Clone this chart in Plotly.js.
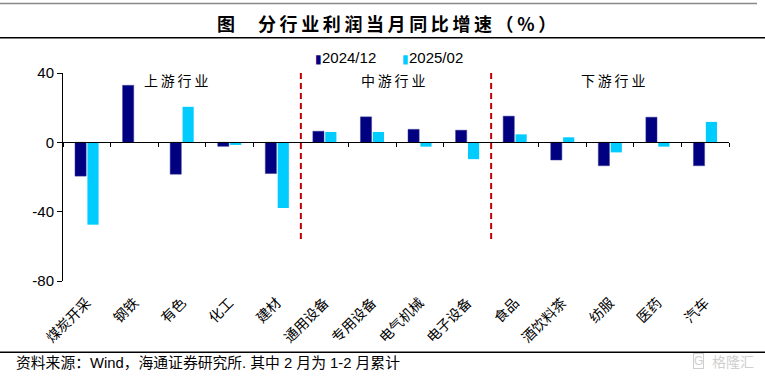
<!DOCTYPE html>
<html>
<head>
<meta charset="utf-8">
<script src="https://cdn.plot.ly/plotly-3.0.1.min.js"></script>
<style>
html,body{margin:0;padding:0;background:#fff;}
#chart{width:765px;height:381px;}
</style>
</head>
<body>
<div id="chart"></div>
<script>
const categories = ['煤炭开采','钢铁','有色','化工','建材','通用设备','专用设备','电气机械','电子设备','食品','酒饮料茶','纺服','医药','汽车'];
const series2024_12 = [-19.5, 32.9, -18.4, -2.3, -18.0, 6.4, 14.7, 7.5, 7.0, 15.1, -10.2, -13.5, 14.5, -13.5];
const series2025_02 = [-47.5, null, 20.5, -1.5, -37.9, 6.0, 6.0, -2.5, -9.7, 4.6, 2.9, -5.8, -2.5, 11.8];
const seriesNames = ['2024/12', '2025/02'];
const seriesColors = ['#000080', '#00CCFF'];
const groupNames = ['上游行业', '中游行业', '下游行业'];
const yTicks = [40, 0, -40, -80];
const titleHead = '图';
const titleBody = '分行业利润当月同比增速（%）';
const sourceText = '资料来源：Wind，海通证券研究所. 其中 2 月为 1-2 月累计';

const W = 765, H = 381;
const M = {l: 63, r: 36, t: 73, b: 100};
const PW = W - M.l - M.r, PH = H - M.t - M.b;
const px = x => (x - M.l) / PW;
const py = y => (H - M.b - y) / PH;
const yMin = -80, yMax = 40;

const cjk = '"Noto Sans CJK SC", "Liberation Sans", sans-serif';
const latin = '"Liberation Sans", "Noto Sans CJK SC", sans-serif';
const spaced = s => Array.from(s).join('\u2009');

const traces = [
  {type: 'bar', name: seriesNames[0], x: categories, y: series2024_12,
   marker: {color: seriesColors[0], line: {color: '#3a3a9a', width: 0.5}}, hoverinfo: 'x+y'},
  {type: 'bar', name: seriesNames[1], x: categories, y: series2025_02,
   marker: {color: seriesColors[1], line: {width: 0}}, hoverinfo: 'x+y'},
  {type: 'scatter', mode: 'markers', x: categories, y: categories.map(() => null),
   xaxis: 'x2', yaxis: 'y', showlegend: false, hoverinfo: 'skip'}
];

const dividers = [4.5, 8.5];
const groupX = [1.88, 6.43, 11.07];

const shapes = [];
dividers.forEach(d => shapes.push({type: 'line', xref: 'x', yref: 'y', x0: d, x1: d, y0: yMax, y1: -58,
  line: {color: '#C00000', width: 2, dash: '6px,4px'}}));
shapes.push({type: 'line', xref: 'paper', yref: 'paper', x0: px(0), x1: px(757), y0: py(3.5), y1: py(3.5),
  line: {color: '#888', width: 1.5}});
shapes.push({type: 'line', xref: 'paper', yref: 'paper', x0: px(0), x1: px(765), y0: py(37.7), y1: py(37.7),
  line: {color: '#000', width: 1.5}});
shapes.push({type: 'line', xref: 'paper', yref: 'paper', x0: px(0), x1: px(765), y0: py(352.3), y1: py(352.3),
  line: {color: '#000', width: 1.5}});

const annotations = groupNames.map((g, i) => ({
  text: spaced(g), x: groupX[i], y: 35.7, xref: 'x', yref: 'y', showarrow: false,
  xanchor: 'center', yanchor: 'middle', font: {family: cjk, size: 14, color: '#000'}
}));
// title
annotations.push({text: '<b>' + titleHead + '</b>', xref: 'paper', yref: 'paper', x: px(215), y: py(22.5),
  xanchor: 'left', yanchor: 'middle', showarrow: false, font: {family: cjk, size: 18, color: '#000'}});
annotations.push({text: '<b>' + spaced(titleBody) + '</b>', xref: 'paper', yref: 'paper', x: px(256), y: py(22.5),
  xanchor: 'left', yanchor: 'middle', showarrow: false, font: {family: cjk, size: 18, color: '#000'}});
// legend
const legendX = [313, 400];
seriesNames.forEach((n, i) => annotations.push({
  text: '<span style="font-size:12px;color:' + seriesColors[i] + '">▮</span>' + n,
  xref: 'paper', yref: 'paper', x: px(legendX[i]), y: py(57), xanchor: 'left', yanchor: 'middle', showarrow: false,
  font: {family: latin, size: 15, color: '#000'}}));
// source
annotations.push({text: sourceText, xref: 'paper', yref: 'paper', x: px(14), y: py(363),
  xanchor: 'left', yanchor: 'middle', showarrow: false, font: {family: latin, size: 14.8, color: '#000'}});
annotations.push({text: 'G', xref: 'paper', yref: 'paper', x: px(698), y: py(361),
  xanchor: 'center', yanchor: 'middle', showarrow: false, bordercolor: '#cfcfcf', borderwidth: 1, borderpad: 0,
  font: {family: latin, size: 12, color: '#cfcfcf'}});
annotations.push({text: '格隆汇', xref: 'paper', yref: 'paper', x: px(733), y: py(361),
  xanchor: 'center', yanchor: 'middle', showarrow: false, font: {family: cjk, size: 14, color: '#cfcfcf'}});

const layout = {
  width: W, height: H,
  margin: M,
  paper_bgcolor: '#fff', plot_bgcolor: '#fff',
  showlegend: false,
  barmode: 'group', bargap: 0.479, bargroupgap: 0.1,
  xaxis: {type: 'category', range: [-0.5, categories.length - 0.5], showline: false, ticks: '', showgrid: false,
    zeroline: false, tickangle: -45, ticklabelstandoff: 10, tickfont: {family: cjk, size: 14, color: '#000'}, fixedrange: true},
  xaxis2: {type: 'category', overlaying: 'x', anchor: 'free', position: (0 - yMin) / (yMax - yMin),
    range: [-0.5, categories.length - 0.5], showline: true, linecolor: '#000', linewidth: 1,
    ticks: 'outside', tickson: 'boundaries', ticklen: 4, tickcolor: '#000', showticklabels: false, showgrid: false, zeroline: false},
  yaxis: {range: [yMin, yMax], tickvals: yTicks, ticktext: yTicks.map(String), showline: true, linecolor: '#000', linewidth: 1,
    ticks: 'outside', ticklen: 5, tickcolor: '#000', showgrid: false, zeroline: false,
    tickfont: {family: latin, size: 15, color: '#000'}},
  shapes: shapes,
  annotations: annotations
};

Plotly.newPlot('chart', traces, layout, {displayModeBar: false, staticPlot: true});
</script>
</body>
</html>
